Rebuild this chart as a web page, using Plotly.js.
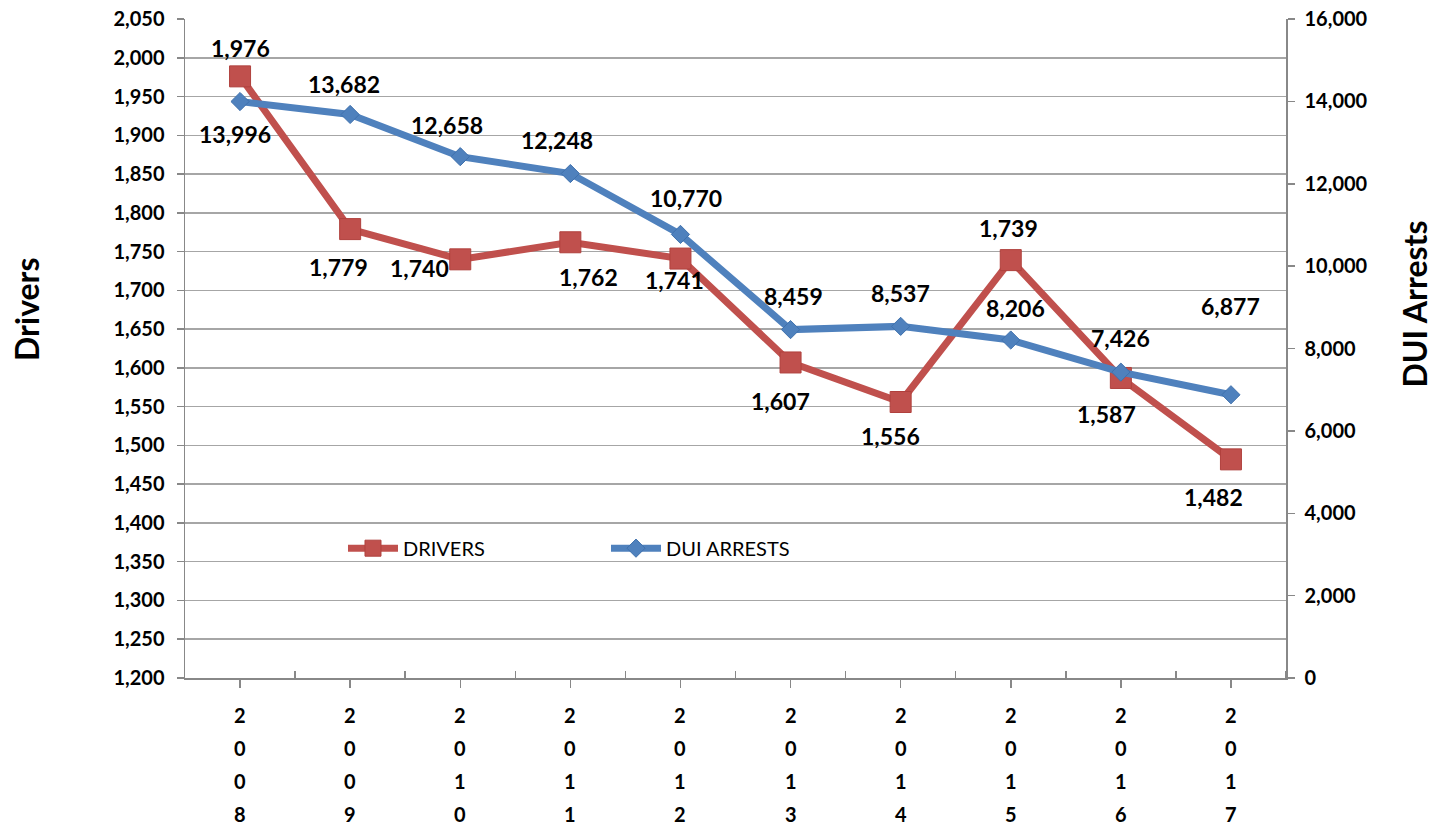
<!DOCTYPE html>
<html>
<head>
<meta charset="utf-8">
<script src="https://cdn.plot.ly/plotly-3.0.1.min.js"></script>
<style>html,body{margin:0;padding:0;background:#fff;}#chart{width:1433px;height:830px;}</style>
</head>
<body>
<div id="chart"></div>
<script>
var years = ["2008","2009","2010","2011","2012","2013","2014","2015","2016","2017"];
var drivers = [1976, 1779, 1740, 1762, 1741, 1607, 1556, 1739, 1587, 1482];
var duiArrests = [13996, 13682, 12658, 12248, 10770, 8459, 8537, 8206, 7426, 6877];

// label offsets (px) relative to each point
var driverLabelShift = [[0,28],[-12,-38],[-41,-9],[18,-35],[-6,-21],[-10,-39],[-10,-34],[-2,32],[-14,-36],[-17,-38]];
var duiLabelShift = [[-5,-32],[-6,30],[-13,32],[-13,34],[6,36],[3,34],[0,33],[5,32],[0,34],[0,89]];

var FONT = "Lato, 'Open Sans', sans-serif";
var red = "#C0504D", blue = "#4F81BD";
var idx = years.map(function(_, i){ return i; });

var traces = [
  {x: idx, y: drivers, name: "DRIVERS", type: "scatter", mode: "lines+markers",
   line: {color: red, width: 7}, marker: {symbol: "square", size: 21, color: red, line:{color:"#B0403D", width:1}},
   yaxis: "y", hoverinfo: "y"},
  {x: idx, y: duiArrests, name: "DUI ARRESTS", type: "scatter", mode: "lines+markers",
   line: {color: blue, width: 7}, marker: {symbol: "diamond", size: 14, color: blue, line:{color:"#3F71AD", width:1}},
   yaxis: "y2", hoverinfo: "y"}
];

var annotations = [];
function fmt(v){ return v.toLocaleString("en-US"); }
drivers.forEach(function(v, i){
  annotations.push({x: i, y: v, xref: "x", yref: "y", text: fmt(v), showarrow: false,
    xshift: driverLabelShift[i][0], yshift: driverLabelShift[i][1],
    font: {family: FONT, size: 23, color: "#000", weight: "bold"}});
});
duiArrests.forEach(function(v, i){
  annotations.push({x: i, y: v, xref: "x", yref: "y2", text: fmt(v), showarrow: false,
    xshift: duiLabelShift[i][0], yshift: duiLabelShift[i][1],
    font: {family: FONT, size: 23, color: "#000", weight: "bold"}});
});
// vertical stacked year labels
years.forEach(function(y, i){
  y.split("").forEach(function(ch, r){
    annotations.push({x: i, y: 0, xref: "x", yref: "paper", text: ch, showarrow: false,
      yanchor: "middle", yshift: -37 - 33*r,
      font: {family: FONT, size: 20, color: "#000", weight: "bold"}});
  });
});
// axis titles
annotations.push({x: -0.1435, y: 0.56, xref: "paper", yref: "paper", xanchor: "center", yanchor: "middle",
  text: "Drivers", showarrow: false,
  textangle: -90, font: {family: FONT, size: 32, color: "#000", weight: "bold"}});
annotations.push({x: 1.117, y: 0.568, xref: "paper", yref: "paper", xanchor: "center", yanchor: "middle",
  text: "DUI Arrests", showarrow: false,
  textangle: -90, font: {family: FONT, size: 32, color: "#000", weight: "bold"}});

var layout = {
  width: 1433, height: 830,
  margin: {l: 185, r: 147, t: 19, b: 152},
  paper_bgcolor: "#fff", plot_bgcolor: "#fff",
  showlegend: true,
  legend: {orientation: "h", x: 0.1435, y: 0.197, xanchor: "left", yanchor: "middle",
    font: {family: FONT, size: 20, color: "#000"}, itemwidth: 50, entrywidth: 198, entrywidthmode: "pixels",
    bgcolor: "rgba(0,0,0,0)"},
  xaxis: {range: [-0.5, 9.5], tickmode: "array", tickvals: idx, ticktext: years.map(function(){return "";}),
    showgrid: false, zeroline: false, showline: true, linecolor: "#888", linewidth: 1.5,
    ticks: "outside", ticklen: 8, tickcolor: "#888", tickwidth: 1.5,
    minor: {tickmode: "array", tickvals: idx.map(function(i){return i + 0.5;}), ticks: "inside", ticklen: 7, tickcolor: "#888", tickwidth: 1.5, showgrid: false},
    fixedrange: true},
  yaxis: {range: [1200, 2050], dtick: 50, tick0: 1200, tickformat: ",d",
    showgrid: true, gridcolor: "#A6A6A6", gridwidth: 1.5, zeroline: false,
    showline: true, linecolor: "#888", linewidth: 1.5, ticks: "outside", ticklen: 7, tickcolor: "#888", tickwidth: 1.5,
    tickfont: {family: FONT, size: 20, color: "#000", weight: "bold"}, ticklabelstandoff: 8},
  yaxis2: {range: [0, 16000], dtick: 2000, tick0: 0, tickformat: ",d", overlaying: "y", side: "right",
    showgrid: false, zeroline: false, showline: true, linecolor: "#888", linewidth: 1.5,
    ticks: "outside", ticklen: 7, tickcolor: "#888", tickwidth: 1.5,
    tickfont: {family: FONT, size: 20, color: "#000", weight: "bold"}, ticklabelstandoff: 6},
  annotations: annotations
};

Plotly.newPlot("chart", traces, layout, {displayModeBar: false, staticPlot: true});
</script>
</body>
</html>
